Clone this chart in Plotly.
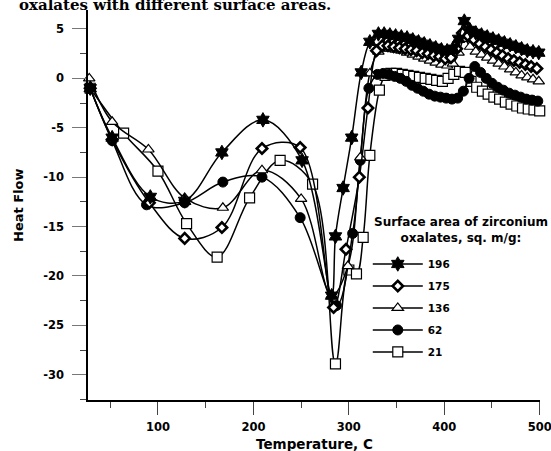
import plotly.graph_objects as go

# ---------------- data ----------------
t196 = [29, 52, 92, 128, 167, 210, 251, 282, 286, 294, 303, 313, 322,
        331, 337, 343, 349, 355, 361, 367, 373, 379, 385, 391, 397, 403, 409, 415,
        421, 427, 433, 439, 445, 451, 457, 463, 469, 475, 481, 487, 493, 499]
v196 = [-1.0, -6.0, -12.0, -12.4, -7.5, -4.2, -8.3, -22.0, -16.0, -11.1, -6.0, 0.6, 3.7,
        4.5, 4.5, 4.4, 4.3, 4.2, 4.1, 3.9, 3.7, 3.5, 3.3, 3.1, 2.9, 2.8, 3.0, 4.0,
        5.8, 4.9, 4.6, 4.4, 4.2, 4.0, 3.8, 3.6, 3.4, 3.2, 3.0, 2.8, 2.7, 2.6]

t175 = [29, 52, 91, 128, 167, 209, 249, 284, 297, 311, 320, 329,
        335, 341, 347, 353, 359, 365, 371, 377, 383, 389, 395, 401, 407, 413, 419,
        425, 431, 437, 443, 449, 455, 461, 467, 473, 479, 485, 491, 497]
v175 = [-1.0, -6.2, -12.6, -16.2, -15.1, -7.1, -7.0, -23.2, -17.3, -10.0, -3.0, 2.8,
        3.3, 3.3, 3.2, 3.1, 3.0, 2.9, 2.8, 2.6, 2.5, 2.3, 2.2, 2.0, 2.1, 3.0, 4.6,
        4.3, 3.9, 3.5, 3.2, 2.9, 2.6, 2.3, 2.0, 1.8, 1.6, 1.4, 1.2, 1.0]

t136 = [28, 52, 90, 128, 168, 209, 250, 282, 299, 312, 322, 331,
        337, 343, 349, 355, 361, 367, 373, 379, 385, 391, 397, 403, 409, 415, 421,
        427, 433, 439, 445, 451, 457, 463, 469, 475, 481, 487, 493, 499]
v136 = [0.0, -4.4, -7.2, -12.1, -13.1, -9.3, -12.2, -22.0, -19.0, -8.0, 0.5, 2.7,
        3.0, 3.0, 2.9, 2.8, 2.6, 2.4, 2.2, 2.0, 1.8, 1.6, 1.4, 1.3, 1.5, 2.6, 4.0,
        3.2, 2.7, 2.4, 2.1, 1.8, 1.5, 1.2, 0.9, 0.6, 0.3, 0.1, -0.1, -0.3]

t62 = [29, 52, 88, 128, 168, 209, 249, 287, 304, 312, 321, 330,
       336, 342, 348, 354, 360, 366, 372, 378, 384, 390, 396, 402, 408, 414, 420,
       426, 432, 438, 444, 450, 456, 462, 468, 474, 480, 486, 492, 498]
v62 = [-1.0, -6.3, -12.8, -12.6, -10.5, -10.0, -14.1, -23.0, -15.7, -8.3, -1.0, 0.4,
       0.5, 0.4, 0.2, 0.0, -0.3, -0.7, -1.0, -1.3, -1.6, -1.8, -1.9, -2.0, -2.1, -2.0, -1.3,
       0.0, 1.2, 0.6, 0.0, -0.5, -0.9, -1.2, -1.5, -1.7, -1.9, -2.1, -2.2, -2.3]

t21 = [29, 64, 100, 130, 162, 196, 228, 262, 286, 300, 308, 315, 322, 332,
       338, 344, 350, 356, 362, 368, 374, 380, 386, 392, 398, 404, 410, 416, 422,
       428, 434, 440, 446, 452, 458, 464, 470, 476, 482, 488, 494, 500]
v21 = [-1.0, -5.55, -9.4, -14.7, -18.1, -12.1, -8.3, -10.7, -28.9, -19.4, -19.8, -16.1, -7.8, -1.2,
       0.3, 0.5, 0.5, 0.4, 0.3, 0.2, 0.1, 0.0, -0.1, -0.2, -0.3, 0.0, 0.4, 0.7, 0.6,
       -0.3, -0.9, -1.3, -1.6, -1.9, -2.1, -2.4, -2.6, -2.8, -3.0, -3.1, -3.2, -3.3]

series_names = ["21", "62", "136", "175", "196"]   # drawing order (196 on top)
legend_order = ["196", "175", "136", "62", "21"]
x_ticks = [100, 200, 300, 400, 500]
y_ticks = [-30, -25, -20, -15, -10, -5, 0, 5]

# ---------------- styles ----------------
styles = {
    "21":  dict(symbol="square", size=10, color="white", line=dict(color="black", width=1.2)),
    "62":  dict(symbol="circle", size=10, color="black", line=dict(color="black", width=1)),
    "136": dict(symbol="triangle-up", size=10, color="white", line=dict(color="black", width=1.2)),
    "175": dict(symbol="diamond", size=8, color="white", line=dict(color="black", width=2.6)),
    "196": dict(symbol="hexagram", size=11, color="black", line=dict(color="black", width=1)),
}
data = {"21": (t21, v21), "62": (t62, v62), "136": (t136, v136),
        "175": (t175, v175), "196": (t196, v196)}

FONT = "DejaVu Sans"

fig = go.Figure()
for name in series_names:
    tx, vy = data[name]
    fig.add_trace(go.Scatter(
        x=tx, y=vy, name=name, mode="lines+markers",
        line=dict(color="black", width=1.5, shape="spline", smoothing=1.0),
        marker=styles[name], cliponaxis=False,
        legendgroup=name, legendrank=legend_order.index(name) + 1,
    ))

fig.update_layout(
    width=551, height=451,
    margin=dict(l=88, r=11, t=10, b=51, autoexpand=False),
    paper_bgcolor="white", plot_bgcolor="white",
    showlegend=True,
    legend=dict(
        x=0.619, y=0.386, xanchor="left", yanchor="top",
        traceorder="grouped", tracegroupgap=3,
        font=dict(family=FONT, size=10.5, color="black", weight="bold"),
        bgcolor="rgba(0,0,0,0)", itemwidth=50,
    ),
    xaxis=dict(
        range=[26.7, 500.3], showgrid=False, zeroline=False,
        showline=True, linecolor="black", linewidth=1.5,
        tickmode="array", tickvals=x_ticks, ticktext=[str(v) for v in x_ticks],
        ticks="outside", ticklen=13, tickcolor="#444", tickwidth=1,
        minor=dict(dtick=50, tick0=0, ticks="outside", ticklen=6, tickcolor="#444"),
        tickfont=dict(family=FONT, size=11.5, color="black", weight="bold"),
        ticklabelstandoff=2, ticklabeloverflow="allow", automargin=False,
    ),
    yaxis=dict(
        range=[-32.56, 6.92], showgrid=False, zeroline=False,
        showline=True, linecolor="black", linewidth=1.5,
        tickmode="array", tickvals=y_ticks, ticktext=[str(v) for v in y_ticks],
        ticks="outside", ticklen=14, tickcolor="#777", tickwidth=1.2,
        minor=dict(dtick=2.5, tick0=0, ticks="outside", ticklen=6, tickcolor="#444"),
        tickfont=dict(family=FONT, size=11.5, color="black", weight="bold"),
        ticklabelstandoff=6, automargin=False,
    ),
    annotations=[
        dict(text="Temperature, C", xref="paper", yref="paper",
             x=0.5, y=-0.113, xanchor="center", yanchor="middle", showarrow=False,
             font=dict(family=FONT, size=13.5, color="black", weight="bold")),
        dict(text="Heat Flow", xref="paper", yref="paper", textangle=-90,
             x=-0.155, y=0.5, xanchor="center", yanchor="middle", showarrow=False,
             font=dict(family=FONT, size=13, color="black", weight="bold")),
        dict(text="Surface area of zirconium<br>oxalates, sq. m/g:", xref="paper", yref="paper",
             x=0.825, y=0.392, xanchor="center", yanchor="bottom", showarrow=False,
             align="center",
             font=dict(family=FONT, size=12, color="black", weight="bold")),
        dict(text="oxalates with different surface areas.", xref="paper", yref="paper",
             x=-0.157, y=0.985, xanchor="left", yanchor="bottom", showarrow=False,
             font=dict(family="DejaVu Serif", size=15, color="black", weight="bold")),
    ],
)

fig.write_html("out.html")
